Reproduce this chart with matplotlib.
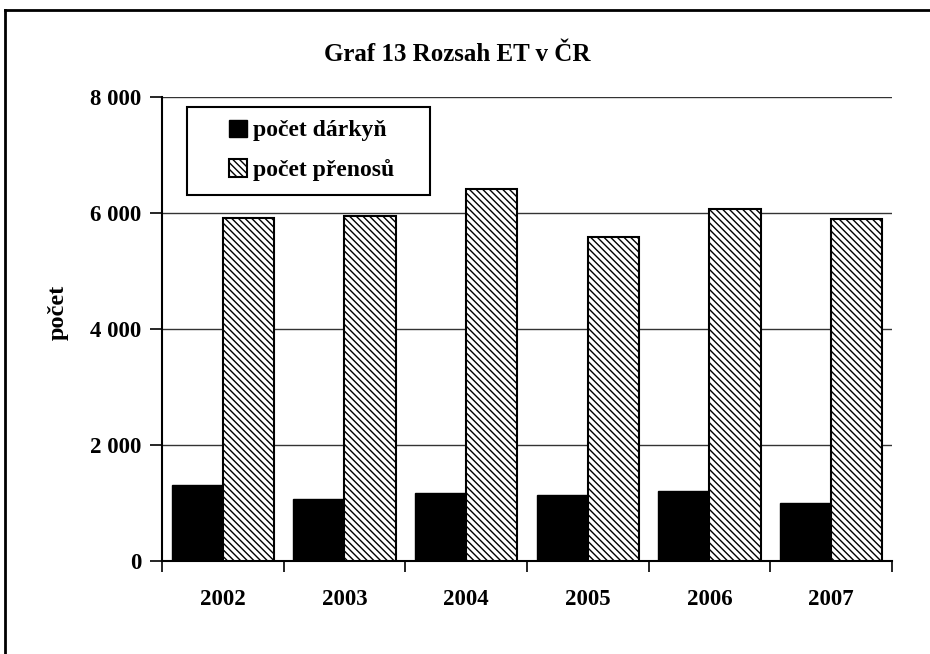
import numpy as np
import matplotlib
matplotlib.use("Agg")
import matplotlib.pyplot as plt
from matplotlib.lines import Line2D
from matplotlib.patches import Rectangle

plt.rcParams['font.family'] = ['Liberation Serif', 'DejaVu Serif']
plt.rcParams['font.weight'] = 'bold'
plt.rcParams['hatch.linewidth'] = 1.0

# data
years = ["2002", "2003", "2004", "2005", "2006", "2007"]
darkyne = [1310, 1070, 1175, 1140, 1210, 1000]
prenosy = [5920, 5940, 6420, 5590, 6070, 5900]
yticks = [0, 2000, 4000, 6000, 8000]
ytick_labels = ["0", "2 000", "4 000", "6 000", "8 000"]

fig = plt.figure(figsize=(9.3, 6.54), dpi=100)
ax = fig.add_axes([0.1742, 0.1422, 0.7849, 0.7095])

x = np.arange(len(years))
w = 0.42
ax.bar(x - w/2, darkyne, w, color="black", edgecolor="black", lw=1,
       label="počet dárkyň", zorder=3)
ax.bar(x + w/2, prenosy, w, color="white", edgecolor="black", lw=1.5,
       hatch="\\\\\\\\\\", label="počet přenosů", zorder=3)

ax.set_xlim(-0.5, len(years) - 0.5)
ax.set_ylim(0, 8000)
ax.set_yticks(yticks)
ax.set_yticklabels(ytick_labels)
ax.set_xticks(x)
ax.set_xticklabels(years)
ax.set_xticks(np.arange(len(years) + 1) - 0.5, minor=True)
ax.tick_params(axis='x', which='major', length=0, pad=20, labelsize=16.5)
ax.tick_params(axis='x', which='minor', length=8, width=1.2, direction='out')
ax.tick_params(axis='y', length=9, width=1.2, direction='out', pad=6, labelsize=16.5)
for t in ax.get_xticklabels() + ax.get_yticklabels():
    t.set_fontweight('bold')

ax.grid(axis='y', color='#333333', lw=1, zorder=0)
ax.spines['top'].set_visible(False)
ax.spines['right'].set_visible(False)
ax.spines['left'].set_linewidth(1.5)
ax.spines['bottom'].set_linewidth(1.5)

ax.set_ylabel("počet", fontsize=17.5, fontweight='bold')
ax.yaxis.set_label_coords(-0.128, 0.535)

fig.text(0.492, 0.916, "Graf 13 Rozsah ET v ČR", ha='center', va='center',
         fontsize=18, fontweight='bold')

# legend box drawn separately so it can be wider than the entries
ax.add_patch(Rectangle((0.0342, 0.789), 0.333, 0.189, transform=ax.transAxes,
                       facecolor='white', edgecolor='black', lw=1.5, zorder=4))
leg = ax.legend(loc='center left', bbox_to_anchor=(0.092, 0.885), fontsize=17,
                frameon=False, handlelength=0.75, handleheight=0.75,
                handletextpad=0.25, borderpad=0, labelspacing=0.75,
                borderaxespad=0)
leg.set_zorder(5)
for t in leg.get_texts():
    t.set_fontweight('bold')

# outer frame: only the top and left edges are inside the picture
fig.add_artist(Line2D([0.0054, 1.0], [0.9847, 0.9847], transform=fig.transFigure,
                      color='black', lw=2))
fig.add_artist(Line2D([0.0054, 0.0054], [0.0, 0.9847], transform=fig.transFigure,
                      color='black', lw=2))

fig.savefig("out.png", dpi=100)
